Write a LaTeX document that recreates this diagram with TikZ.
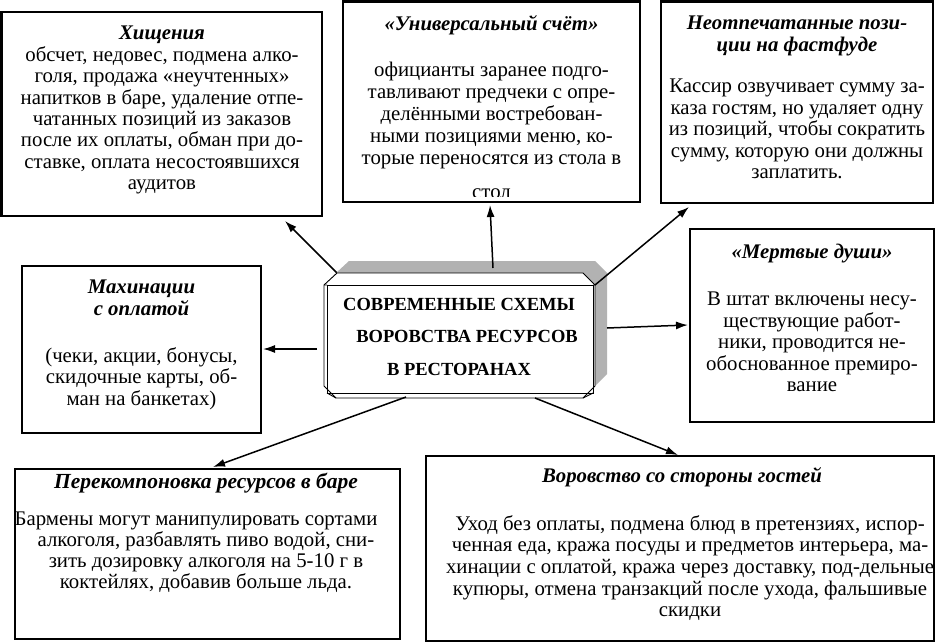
\documentclass[tikz,border=0pt]{standalone}
\usepackage{fontspec}
\setmainfont{Liberation Serif}
\usetikzlibrary{arrows.meta}
\tikzset{
  boxr/.style={draw, line width=2.3pt, inner sep=0pt, outer sep=0pt},
  txt/.style={align=center, inner sep=0pt, outer sep=0pt, anchor=north},
  arr/.style={line width=1.5pt, -{Latex[length=12pt,width=8pt]}},
  thinline/.style={line width=0.9pt},
}
\newcommand{\ttl}[1]{\textbf{\textit{#1}}}
\newcommand{\st}{\rule{0pt}{17pt}}
\begin{document}
\begin{tikzpicture}[x=1pt,y=-1pt]
\useasboundingbox[fill=white] (0,0) rectangle (936,644);

% boxes
\node[boxr, minimum width=320.5pt, minimum height=204pt] (b1) at (161.75,114) {};
\node[boxr, minimum width=297.3pt, minimum height=200.2pt] (b2) at (491.35,101.6) {};
\node[boxr, minimum width=272pt, minimum height=201.5pt] (b3) at (797,102.25) {};
\node[boxr, minimum width=244pt, minimum height=193pt] (b4) at (812,325.5) {};
\node[boxr, minimum width=239pt, minimum height=167pt] (b5) at (141.5,349.5) {};
\node[boxr, minimum width=385pt, minimum height=170pt] (b6) at (207.5,554) {};
\node[boxr, minimum width=508pt, minimum height=185pt] (b7) at (680,548.5) {};

% central bevelled shape
\fill[black!30] (349,261) -- (595,261) -- (607,273) -- (607,374) -- (595,386) -- (348,386) -- (336,374) -- (336,273) -- cycle;
\filldraw[thinline, fill=white] (337,273) -- (583,273) -- (595,285) -- (595,386) -- (583,398) -- (336,398) -- (324,386) -- (324,285) -- cycle;
\draw[thinline] (327,285) rectangle (593,393);
\draw[thinline] (324,285) -- (327,285) (336,398) -- (327,393) (583,398) -- (593,393) (595,285) -- (593,285);

% texts
\node[txt, font=\fontsize{20.8pt}{21.4pt}\selectfont] (t1) at (162,23) {\st\ttl{Хищения}\\
обсчет, недовес, подмена алко-\\
голя, продажа «неучтенных»\\
напитков в баре, удаление отпе-\\
чатанных позиций из заказов\\
после их оплаты, обман при до-\\
ставке, оплата несостоявшихся\\
аудитов};

\begin{scope}
\clip (344,3) rectangle (639,197);
\node[txt, font=\fontsize{20.8pt}{22pt}\selectfont] (t2) at (491.5,13.5) {\st\ttl{«Универсальный счёт»}\\[24.5pt]
официанты заранее подго-\\
тавливают предчеки с опре-\\
делёнными востребован-\\
ными позициями меню, ко-\\
торые переносятся из стола в\\[12pt]
стол};
\end{scope}

\node[txt, font=\fontsize{20.8pt}{21.5pt}\selectfont] (t3) at (797,13) {\st\ttl{Неотпечатанные пози-}\\[0.5pt]
\ttl{ции на фастфуде}\\[19.5pt]
Кассир озвучивает сумму за-\\
каза гостям, но удаляет одну\\
из позиций, чтобы сократить\\
сумму, которую они должны\\
заплатить.};

\node[txt, font=\fontsize{20.8pt}{21.6pt}\selectfont] (t4) at (812,241.5) {\st\ttl{«Мертвые души»}\\[25.4pt]
В штат включены несу-\\
ществующие работ-\\
ники, проводится не-\\
обоснованное премиро-\\
вание};

\node[txt, font=\fontsize{20.8pt}{21.5pt}\selectfont] (t5) at (141.5,276) {\st\ttl{Махинации}\\[0.5pt]
\ttl{с оплатой}\\[25.5pt]
(чеки, акции, бонусы,\\
скидочные карты, об-\\
ман на банкетах)};

\node[txt, font=\fontsize{20.8pt}{21pt}\selectfont] (t6) at (206,471) {\st\ttl{\fontsize{21.5pt}{21pt}\selectfont Перекомпоновка ресурсов в баре}\\[16pt]
Бармены могут манипулировать сортами\hspace*{20pt}\mbox{}\\
алкоголя, разбавлять пиво водой, сни-\\
зить дозировку алкоголя на 5-10 г в\\
коктейлях, добавив больше льда.};

\node[txt, font=\fontsize{20.8pt}{21.7pt}\selectfont] (t7) at (690,465) {\st\ttl{Воровство со стороны гостей}\hspace*{16pt}\mbox{}\\[26.3pt]
Уход без оплаты, подмена блюд в претензиях, испор-\\
ченная еда, кража посуды и предметов интерьера, ма-\\
хинации с оплатой, кража через доставку, под-дельные\\
купюры, отмена транзакций после ухода, фальшивые\\
скидки};

\node[txt, font=\fontsize{18.5pt}{21.5pt}\selectfont\bfseries] (ct) at (459,293) {\st СОВРЕМЕННЫЕ СХЕМЫ\\[11pt]
\hspace*{16pt}ВОРОВСТВА РЕСУРСОВ\\[11pt]
В РЕСТОРАНАХ};

% connectors
\coordinate (a1s) at (336.7,272.7); \coordinate (a1e) at (285,221);
\coordinate (a2s) at (493,268);     \coordinate (a2e) at (490,205);
\coordinate (a3s) at (595,285);     \coordinate (a3e) at (689,207);
\coordinate (a4s) at (607,328);     \coordinate (a4e) at (688,325);
\coordinate (a5s) at (317,349);     \coordinate (a5e) at (263,349);
\coordinate (a6s) at (406,397);     \coordinate (a6e) at (213,467);
\coordinate (a7s) at (535,398);     \coordinate (a7e) at (678,455);
\draw[arr] (a1s) -- (a1e);
\draw[arr] (a2s) -- (a2e);
\draw[arr] (a3s) -- (a3e);
\draw[arr] (a4s) -- (a4e);
\draw[arr] (a5s) -- (a5e);
\draw[arr] (a6s) -- (a6e);
\draw[arr] (a7s) -- (a7e);
\end{tikzpicture}
\end{document}
